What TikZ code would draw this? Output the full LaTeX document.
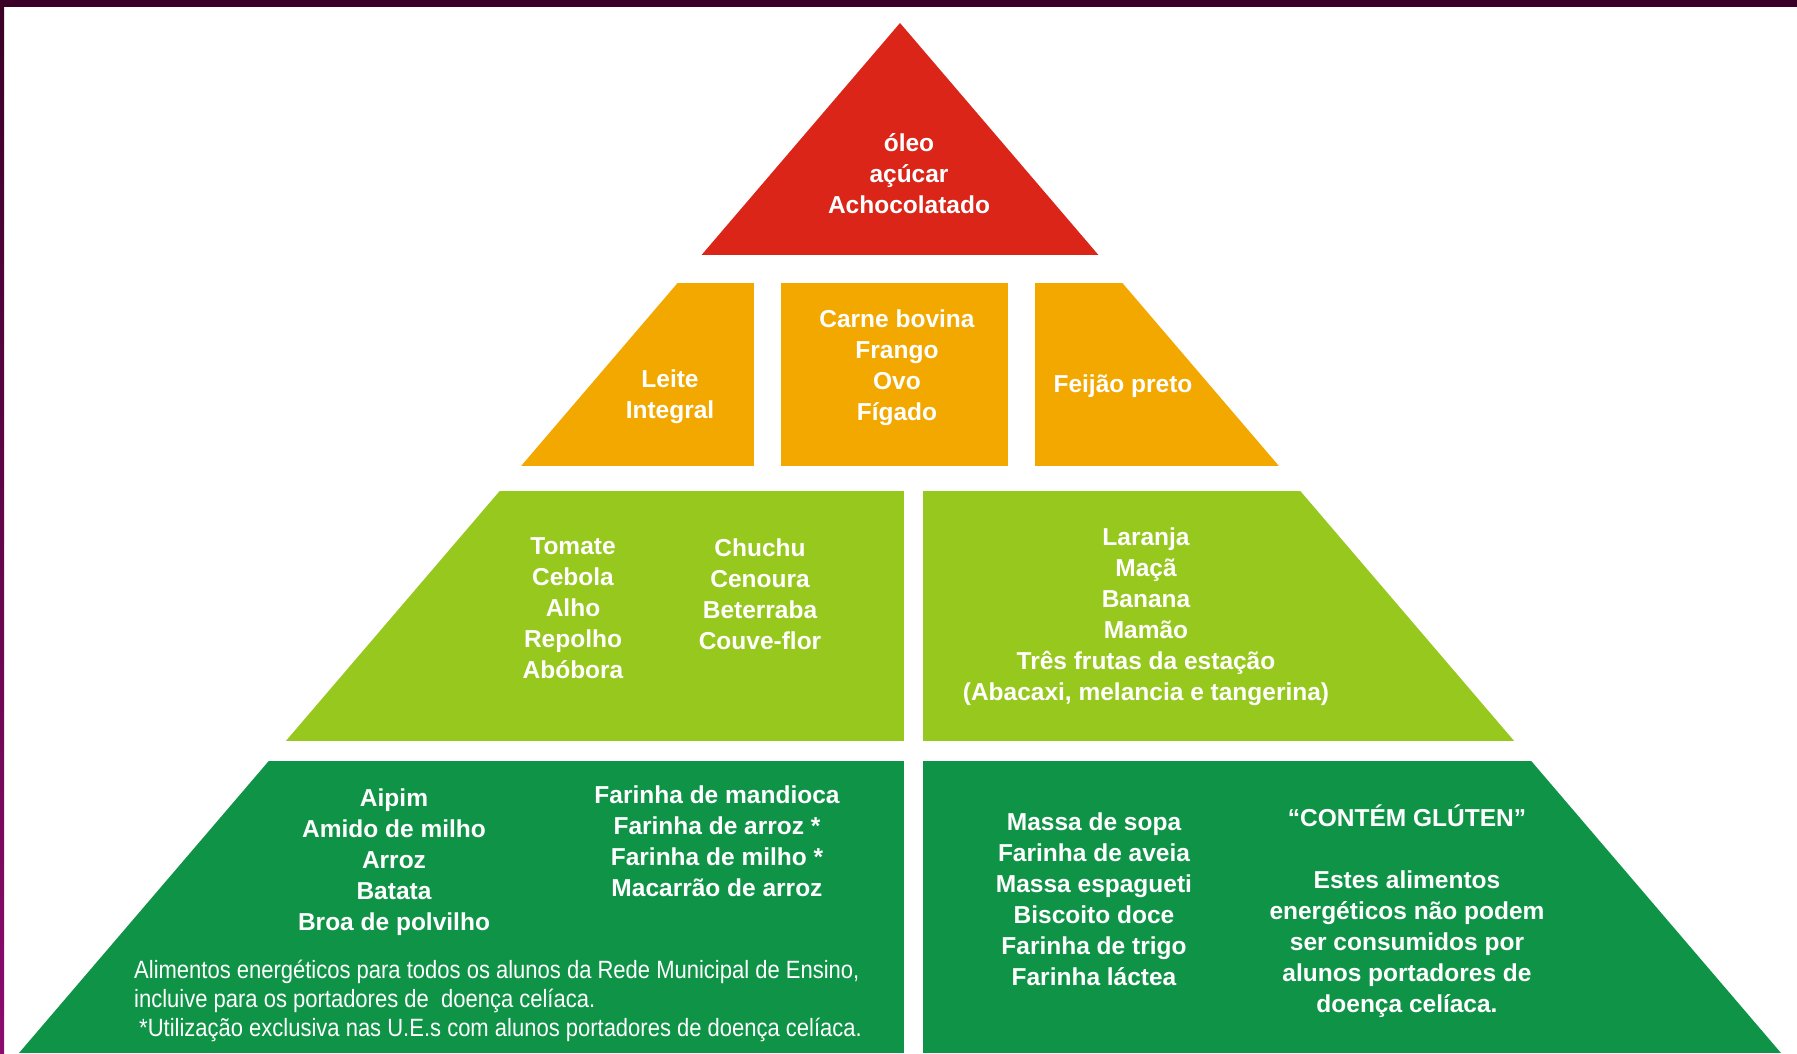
\documentclass[tikz,border=0pt]{standalone}
\usepackage{fontspec}
\setmainfont{Liberation Sans}
\newfontfamily\narrowfont{Liberation Sans}[FakeStretch=0.88]

\definecolor{framedark}{RGB}{58,0,39}
\definecolor{framepink}{RGB}{140,12,110}
\definecolor{oilred}{RGB}{219,37,25}
\definecolor{protein}{RGB}{243,168,0}
\definecolor{veggreen}{RGB}{151,200,30}
\definecolor{grain}{RGB}{15,148,71}

\begin{document}
\begin{tikzpicture}[x=1pt,y=-1pt,
	n_food/.style={
		text=white,
		align=center,
		inner sep=0pt,
		font=\bfseries\fontsize{24.5}{31}\selectfont,
		},
	n_note/.style={
		text=white,
		align=left,
		inner sep=0pt,
		anchor=west,
		font=\narrowfont\fontsize{25}{28.6}\selectfont,
		}]

	\useasboundingbox (0,0) rectangle (1797,1053);
	\fill[framedark] (0,0) rectangle (1797,7);
	\shade[top color=framedark, bottom color=framepink] (0,7) rectangle (4,1053);

	\begin{scope}
		\clip (900,23) -- (19,1053) -- (1781,1053) -- cycle;
		\fill[oilred] (0,0) rectangle (1797,255);
		\fill[protein] (0,283) rectangle (754,466);
		\fill[protein] (781,283) rectangle (1008,466);
		\fill[protein] (1035,283) rectangle (1797,466);
		\fill[veggreen] (0,491) rectangle (904,741);
		\fill[veggreen] (923,491) rectangle (1797,741);
		\fill[grain] (0,761) rectangle (904,1053);
		\fill[grain] (923,761) rectangle (1797,1053);
	\end{scope}

	\node(oil)[n_food] at (909,174) {óleo\\açúcar\\Achocolatado};

	\node(milk)[n_food] at (670,397) {Leite\\Integral};
	\node(meat)[n_food] at (897,368) {Carne bovina\\Frango\\Ovo\\Fígado};
	\node(beans)[n_food] at (1123,386) {Feijão preto};

	\node(veg)[n_food] at (573,608) {Tomate\\Cebola\\Alho\\Repolho\\Abóbora};
	\node(roots)[n_food] at (760,594) {Chuchu\\Cenoura\\Beterraba\\Couve-flor};
	\node(fruit)[n_food] at (1146,617) {Laranja\\Maçã\\Banana\\Mamão\\Três frutas da estação\\(Abacaxi, melancia e tangerina)};

	\node(starch)[n_food] at (394,862) {Aipim\\Amido de milho\\Arroz\\Batata\\Broa de polvilho};
	\node(flour)[n_food] at (717,841) {Farinha de mandioca\\Farinha de arroz *\\Farinha de milho *\\Macarrão de arroz};
	\node(celiac)[n_note] at (134,1001) {Alimentos energéticos para todos os alunos da Rede Municipal de Ensino,\\incluive para os portadores de\ \ doença celíaca.\\\hspace{5pt}*Utilização exclusiva nas U.E.s com alunos portadores de doença celíaca.};

	\node(gluten)[n_food] at (1094,899) {Massa de sopa\\Farinha de aveia\\Massa espagueti\\Biscoito doce\\Farinha de trigo\\Farinha láctea};
	\node(warning)[n_food] at (1407,911) {“CONTÉM GLÚTEN”\\[31pt]Estes alimentos\\energéticos não podem\\ser consumidos por\\alunos portadores de\\doença celíaca.};

\end{tikzpicture}
\end{document}
